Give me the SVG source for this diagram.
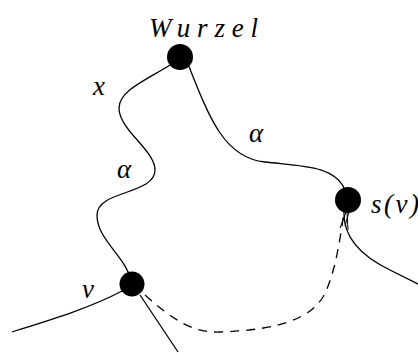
<svg xmlns="http://www.w3.org/2000/svg" width="418" height="354" viewBox="0 0 418 354">
<style>
.e{fill:none;stroke:#000;stroke-width:1.3}
.d{fill:none;stroke:#000;stroke-width:1.3;stroke-dasharray:9,7}
.n{fill:#000}
text{font-family:'Liberation Serif','Times New Roman',serif;font-style:italic;font-size:27px;fill:#000}
</style>
<rect width="418" height="354" fill="#fff"/>
<g id="connectors">
<path class="e" d="M170,65 C150,78 119,90 119,108 C119,130 155,150 155,170 C155,195 97,190 97,215 C97,240 125,255 132,282"/>
<path class="e" d="M188,64 C210,120 225,158 265,162 C300,166 335,165 345,190"/>
<path class="e" d="M122,291 C90,308 50,320 12,332"/>
<path class="e" d="M140,295 L178,352"/>
<path class="d" d="M145,295 C175,322 195,333 220,332 C280,330 310,318 323,297 C335,275 340,240 344,212"/>
<path class="e" d="M344,212 C343,240 365,258 390,270 C402,276 412,281 420,285"/>
<path class="e" d="M346,212 L340,228 M347,212 L348,230 M349,212 L345,226" style="stroke-width:1"/>
</g>
<g id="root">
<circle class="n" cx="180" cy="57" r="13"/>
<text x="149" y="37" textLength="109" lengthAdjust="spacing">Wurzel</text>
</g>
<g id="v">
<circle class="n" cx="132" cy="284" r="12.5"/>
<text x="82" y="298">v</text>
</g>
<g id="sv">
<circle class="n" cx="348" cy="200" r="13"/>
<text x="371" y="213" textLength="48" lengthAdjust="spacing">s(v)</text>
</g>
<g id="labels">
<text x="93" y="95">x</text>
<text x="117" y="178">α</text>
<text x="249" y="142">α</text>
</g>
</svg>
